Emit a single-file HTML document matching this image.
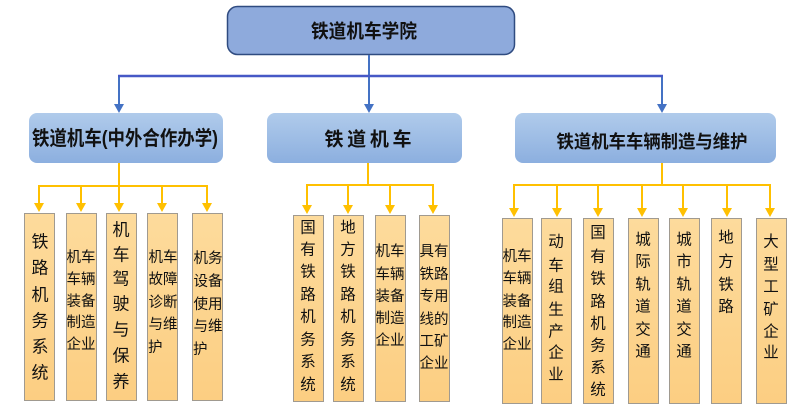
<!DOCTYPE html>
<html><head><meta charset="utf-8"><style>
html,body{margin:0;padding:0;background:#fff;}
svg{display:block;}
text{font-family:"Liberation Sans","Noto Sans CJK SC",sans-serif;fill:#111;}
</style></head><body>
<svg width="800" height="409" viewBox="0 0 800 409" xmlns="http://www.w3.org/2000/svg">
<defs>
<linearGradient id="gb" x1="0" y1="0" x2="0" y2="1"><stop offset="0" stop-color="#b0cbeb"/><stop offset="1" stop-color="#8cafdf"/></linearGradient>
<linearGradient id="gy" x1="0" y1="0" x2="0" y2="1"><stop offset="0" stop-color="#fddb9c"/><stop offset="1" stop-color="#fcce82"/></linearGradient>
</defs>
<!-- top box -->
<rect x="227.5" y="6.5" width="287" height="48" rx="10" fill="#8eaadc" stroke="#2f4b80" stroke-width="1.5"/>
<text x="364" y="32" text-anchor="middle" dominant-baseline="central" font-size="19" font-weight="bold" textLength="106" lengthAdjust="spacingAndGlyphs">铁道机车学院</text>
<!-- blue connectors -->
<g stroke="#4472c4" stroke-width="2" fill="none">
<line x1="369" y1="55" x2="369" y2="106"/>
<line x1="119" y1="76" x2="119" y2="106"/>
<line x1="662" y1="76" x2="662" y2="106"/>
</g>
<line x1="118" y1="76" x2="663" y2="76" stroke="#4658c6" stroke-width="2.5"/>
<g fill="#4472c4">
<polygon points="114,104 124,104 119,113"/>
<polygon points="364,104 374,104 369,113"/>
<polygon points="657,104 667,104 662,113"/>
</g>
<!-- mid boxes -->
<rect x="29" y="113" width="194" height="50" rx="8" fill="url(#gb)"/>
<rect x="267" y="113" width="195" height="50" rx="8" fill="url(#gb)"/>
<rect x="515" y="113" width="261" height="50" rx="8" fill="url(#gb)"/>
<text x="125" y="139" text-anchor="middle" dominant-baseline="central" font-size="20" font-weight="bold" textLength="186" lengthAdjust="spacingAndGlyphs">铁道机车(中外合作办学)</text>
<text x="368" y="140" text-anchor="middle" dominant-baseline="central" font-size="19" font-weight="bold" textLength="87" lengthAdjust="spacing">铁 道 机 车</text>
<text x="652" y="142" text-anchor="middle" dominant-baseline="central" font-size="18" font-weight="bold" textLength="191" lengthAdjust="spacingAndGlyphs">铁道机车车辆制造与维护</text>
<!-- yellow connectors -->
<g stroke="#ffc000" stroke-width="2" fill="none">
<line x1="119" y1="163" x2="119" y2="205"/>
<line x1="38" y1="186" x2="208" y2="186"/>
<line x1="39" y1="186" x2="39" y2="205"/>
<line x1="81" y1="186" x2="81" y2="205"/>
<line x1="162" y1="186" x2="162" y2="205"/>
<line x1="207" y1="186" x2="207" y2="205"/>
<line x1="368" y1="163" x2="368" y2="185"/>
<line x1="306" y1="185" x2="434" y2="185"/>
<line x1="307" y1="185" x2="307" y2="207"/>
<line x1="348" y1="185" x2="348" y2="207"/>
<line x1="390" y1="185" x2="390" y2="207"/>
<line x1="433" y1="185" x2="433" y2="207"/>
<line x1="662" y1="163" x2="662" y2="185"/>
<line x1="513" y1="185" x2="771" y2="185"/>
<line x1="514" y1="185" x2="514" y2="210"/>
<line x1="557" y1="185" x2="557" y2="210"/>
<line x1="598" y1="185" x2="598" y2="210"/>
<line x1="642" y1="185" x2="642" y2="210"/>
<line x1="683" y1="185" x2="683" y2="210"/>
<line x1="727" y1="185" x2="727" y2="210"/>
<line x1="770" y1="185" x2="770" y2="210"/>
</g>
<g fill="#ffc000">
<polygon points="34,203 44,203 39,212"/>
<polygon points="76,203 86,203 81,212"/>
<polygon points="114,203 124,203 119,212"/>
<polygon points="157,203 167,203 162,212"/>
<polygon points="202,203 212,203 207,212"/>
<polygon points="302,205 312,205 307,214"/>
<polygon points="343,205 353,205 348,214"/>
<polygon points="385,205 395,205 390,214"/>
<polygon points="428,205 438,205 433,214"/>
<polygon points="509,208 519,208 514,217"/>
<polygon points="552,208 562,208 557,217"/>
<polygon points="593,208 603,208 598,217"/>
<polygon points="637,208 647,208 642,217"/>
<polygon points="678,208 688,208 683,217"/>
<polygon points="722,208 732,208 727,217"/>
<polygon points="765,208 775,208 770,217"/>
</g>
<!-- child boxes -->
<g fill="url(#gy)" stroke="#a09a90" stroke-width="1">
<rect x="24.5" y="213.5" width="30" height="187"/>
<rect x="66.5" y="213.5" width="30" height="187"/>
<rect x="106.5" y="213.5" width="30" height="187"/>
<rect x="147.5" y="213.5" width="30" height="187"/>
<rect x="192.5" y="213.5" width="30" height="187"/>
<rect x="293.5" y="215.5" width="30" height="186"/>
<rect x="333.5" y="215.5" width="30" height="186"/>
<rect x="375.5" y="215.5" width="30" height="186"/>
<rect x="419.5" y="215.5" width="30" height="186"/>
<rect x="502.5" y="218.5" width="30" height="185"/>
<rect x="541.5" y="218.5" width="30" height="185"/>
<rect x="583.5" y="218.5" width="30" height="185"/>
<rect x="628.5" y="218.5" width="30" height="185"/>
<rect x="669.5" y="218.5" width="30" height="185"/>
<rect x="711.5" y="218.5" width="30" height="185"/>
<rect x="756.5" y="218.5" width="30" height="185"/>
</g>
<!-- left group text -->
<g text-anchor="middle" dominant-baseline="central" font-size="17">
<text x="40" y="242">铁</text><text x="40" y="268">路</text><text x="40" y="295">机</text><text x="40" y="321">务</text><text x="40" y="347">系</text><text x="40" y="373">统</text>
<text x="121" y="230">机</text><text x="121" y="255">车</text><text x="121" y="279">驾</text><text x="121" y="304">驶</text><text x="121" y="330">与</text><text x="121" y="356">保</text><text x="121" y="382">养</text>
</g>
<g text-anchor="middle" dominant-baseline="central" font-size="14.5">
<text x="81" y="258">机车</text><text x="81" y="280">车辆</text><text x="81" y="302">装备</text><text x="81" y="323">制造</text><text x="81" y="345">企业</text>
<text x="163" y="258">机车</text><text x="163" y="280">故障</text><text x="163" y="303">诊断</text><text x="163" y="325">与维</text>
<text x="208" y="259">机务</text><text x="208" y="282">设备</text><text x="208" y="305">使用</text><text x="208" y="327">与维</text>
</g>
<g dominant-baseline="central" font-size="14.5">
<text x="148" y="348">护</text>
<text x="193" y="350">护</text>
</g>
<!-- middle group text -->
<g text-anchor="middle" dominant-baseline="central" font-size="15.5">
<text x="308" y="228">国</text><text x="308" y="250">有</text><text x="308" y="272">铁</text><text x="308" y="295">路</text><text x="308" y="317">机</text><text x="308" y="340">务</text><text x="308" y="362">系</text><text x="308" y="385">统</text>
<text x="348" y="228">地</text><text x="348" y="250">方</text><text x="348" y="272">铁</text><text x="348" y="295">路</text><text x="348" y="317">机</text><text x="348" y="340">务</text><text x="348" y="362">系</text><text x="348" y="385">统</text>
</g>
<g text-anchor="middle" dominant-baseline="central" font-size="14.5">
<text x="390" y="252">机车</text><text x="390" y="275">车辆</text><text x="390" y="297">装备</text><text x="390" y="319">制造</text><text x="390" y="341">企业</text>
<text x="434" y="252">具有</text><text x="434" y="275">铁路</text><text x="434" y="297">专用</text><text x="434" y="320">线的</text><text x="434" y="342">工矿</text><text x="434" y="364">企业</text>
</g>
<!-- right group text -->
<g text-anchor="middle" dominant-baseline="central" font-size="14.5">
<text x="517" y="257">机车</text><text x="517" y="279">车辆</text><text x="517" y="302">装备</text><text x="517" y="323">制造</text><text x="517" y="345">企业</text>
</g>
<g text-anchor="middle" dominant-baseline="central" font-size="15.5">
<text x="556" y="242">动</text><text x="556" y="266">车</text><text x="556" y="287">组</text><text x="556" y="310">生</text><text x="556" y="332">产</text><text x="556" y="353">企</text><text x="556" y="375">业</text>
<text x="598" y="233">国</text><text x="598" y="257">有</text><text x="598" y="279">铁</text><text x="598" y="302">路</text><text x="598" y="324">机</text><text x="598" y="346">务</text><text x="598" y="368">系</text><text x="598" y="390">统</text>
<text x="643" y="240">城</text><text x="643" y="262">际</text><text x="643" y="285">轨</text><text x="643" y="307">道</text><text x="643" y="330">交</text><text x="643" y="352">通</text>
<text x="684" y="240">城</text><text x="684" y="262">市</text><text x="684" y="285">轨</text><text x="684" y="307">道</text><text x="684" y="330">交</text><text x="684" y="352">通</text>
<text x="726" y="238">地</text><text x="726" y="262">方</text><text x="726" y="285">铁</text><text x="726" y="307">路</text>
<text x="771" y="242">大</text><text x="771" y="265">型</text><text x="771" y="287">工</text><text x="771" y="310">矿</text><text x="771" y="332">企</text><text x="771" y="353">业</text>
</g>
</svg>
</body></html>
